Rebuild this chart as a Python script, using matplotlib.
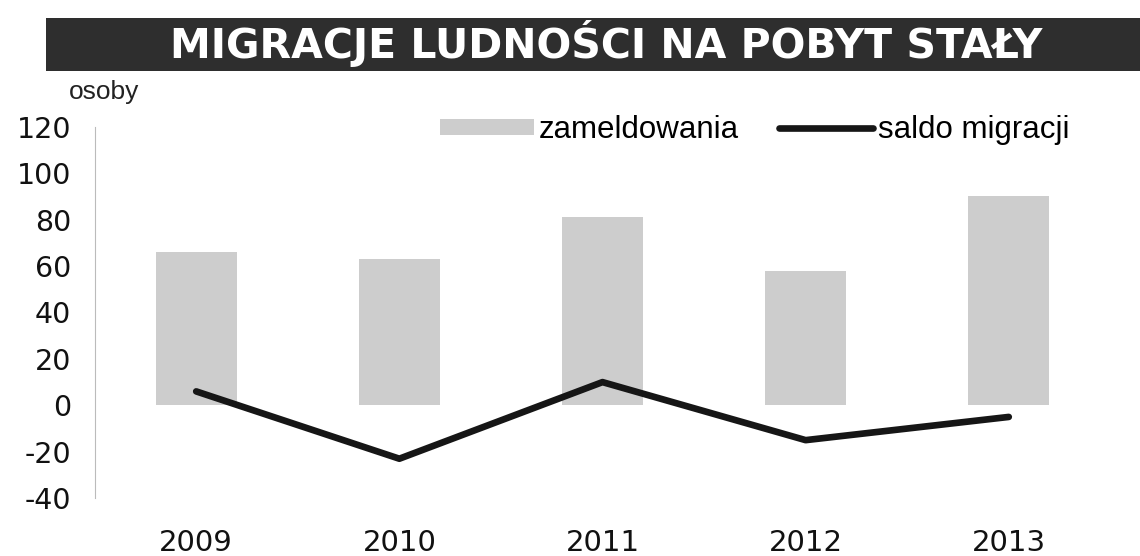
import numpy as np
import matplotlib
matplotlib.use("Agg")
import matplotlib.pyplot as plt
from matplotlib.patches import Rectangle

# Data
years = ["2009", "2010", "2011", "2012", "2013"]
zameldowania = [66, 63, 81, 58, 90]
saldo_migracji = [6, -23, 10, -15, -5]
y_ticks = [-40, -20, 0, 20, 40, 60, 80, 100, 120]

title = "MIGRACJE LUDNOŚCI NA POBYT STAŁY"
y_unit = "osoby"

fig = plt.figure(figsize=(11.4, 5.56), dpi=100)
fig.patch.set_facecolor("white")

# Dark title band across the top
band = Rectangle((0.04, 0.872), 0.96, 0.095, transform=fig.transFigure,
                 facecolor="#2e2e2e", edgecolor="none", zorder=0)
fig.add_artist(band)
fig.text(0.532, 0.921, title, color="white", fontsize=29.5, fontweight="bold",
         family="DejaVu Sans", ha="center", va="center")

ax = fig.add_axes([0.083, 0.104, 0.891, 0.668])
x = np.arange(len(years))

bars = ax.bar(x, zameldowania, width=0.40, color="#cdcdcd", label="zameldowania", zorder=2)
line, = ax.plot(x, saldo_migracji, color="#161616", linewidth=4.8,
                solid_capstyle="round", label="saldo migracji", zorder=3)

ax.set_xlim(-0.5, len(years) - 0.5)
ax.set_ylim(-40, 120)
ax.set_yticks(y_ticks)
ax.set_yticklabels([str(t) for t in y_ticks], fontsize=20.5, family="DejaVu Sans", color="#111111")
ax.set_xticks(x)
ax.set_xticklabels(years, fontsize=21, family="DejaVu Sans", color="#111111")
ax.tick_params(axis="y", length=0, pad=17)
ax.tick_params(axis="x", length=0, pad=22)

for side in ["top", "right", "bottom"]:
    ax.spines[side].set_visible(False)
ax.spines["left"].set_color("#bbbbbb")
ax.spines["left"].set_linewidth(0.8)

fig.text(0.060, 0.835, y_unit, fontsize=19, family="Liberation Sans", color="#222222",
         ha="left", va="center")

ax.legend(handles=[bars, line], loc="center", bbox_to_anchor=(0.662, 0.766),
          bbox_transform=fig.transFigure, ncol=2, frameon=False,
          prop={"family": "Liberation Sans", "size": 22.5},
          handlelength=3.0, handleheight=0.45, handletextpad=0.15, columnspacing=1.3)

fig.savefig("out.png", dpi=100, facecolor="white")
